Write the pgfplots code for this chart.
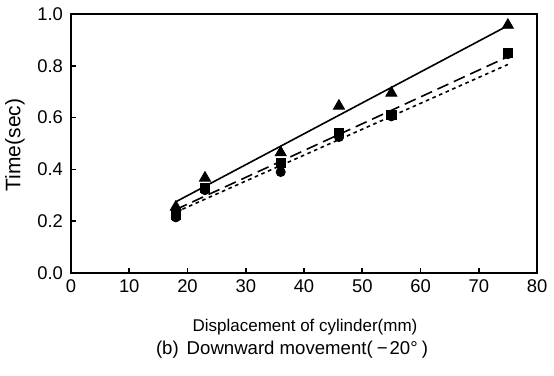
\documentclass[border=0pt]{standalone}
\usepackage{pgfplots}
\pgfplotsset{compat=1.18}
\usetikzlibrary{calc}
\usepackage{fontspec}
\setmainfont{Liberation Sans}
\begin{document}
\begin{tikzpicture}
\begin{axis}[
  name=ax,
  scale only axis,
  width=233pt, height=129.5pt,
  xmin=0, xmax=80, ymin=0, ymax=1.0,
  xtick={0,10,...,80}, ytick={0,0.2,...,1.0},
  tick align=inside, xtick pos=bottom, ytick pos=left,
  major tick length=2.5pt,
  axis line style={line width=0.8pt},
  tick style={line width=0.8pt, black},
  /pgf/number format/assume math mode=true,
  yticklabel style={/pgf/number format/fixed, /pgf/number format/fixed zerofill, /pgf/number format/precision=1, font=\fontsize{9.2}{11}\selectfont, xshift=-0.5pt},
  xticklabel style={font=\fontsize{9.2}{11}\selectfont},
  clip=false,
]
\addplot[black, line width=0.8pt, forget plot] coordinates {(18,0.275) (75,0.955)};
\addplot[black, line width=0.8pt, dash pattern=on 6pt off 3pt, forget plot] coordinates {(18,0.245) (75,0.835)};
\addplot[black, line width=0.8pt, dash pattern=on 1.8pt off 1.8pt, forget plot] coordinates {(18,0.235) (75,0.805)};
\addplot[only marks, mark=*, mark size=2.3pt, black] coordinates {(18,0.215) (23,0.32) (36,0.39) (46,0.525) (55,0.605) (75,0.845)};
\addplot[only marks, mark=square*, mark size=2.3pt, black] coordinates {(18,0.225) (23,0.33) (36,0.425) (46,0.54) (55,0.61) (75,0.85)};
\addplot[only marks, mark=triangle*, mark size=3.2pt, black] coordinates {(18,0.255) (23,0.367) (36,0.465) (46,0.645) (55,0.695) (75,0.957)};
\end{axis}
\node[rotate=90, font=\fontsize{10.5}{12}\selectfont] at ($(ax.north west)+(-28pt,-65.5pt)$) {Time(sec)};
\node[font=\fontsize{8.5}{10}\selectfont] at ($(ax.south west)+(117pt,-27pt)$) {Displacement of cylinder(mm)};
\node[font=\fontsize{9.3}{11}\selectfont] at ($(ax.south west)+(110.5pt,-38.5pt)$) {(b)\hspace{4pt}Downward movement(\hspace{2pt}−\hspace{1pt}20°\hspace{2pt})};
\pgfresetboundingbox
\path[use as bounding box] ($(ax.south west)+(-35.5pt,-51pt)$) rectangle ($(ax.north east)+(8.5pt,7pt)$);
\end{tikzpicture}
\end{document}
